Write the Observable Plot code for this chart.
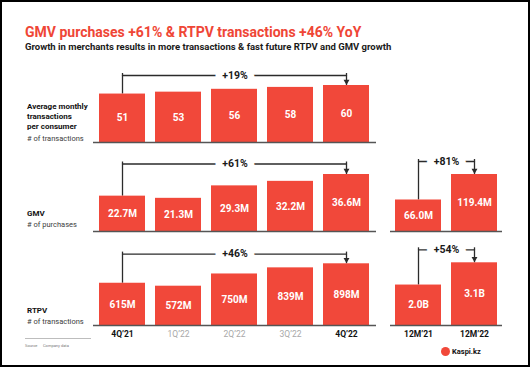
<!DOCTYPE html>
<html><head><meta charset="utf-8">
<script src="https://cdn.jsdelivr.net/npm/d3@7"></script>
<script src="https://cdn.jsdelivr.net/npm/@observablehq/plot@0.6"></script>
<style>
  html,body{margin:0;padding:0;background:#fff;}
  #frame{position:relative;width:530px;height:367px;box-sizing:border-box;border:2px solid #000;font-family:Roboto,"Noto Sans",sans-serif;overflow:hidden;}
  .abs{position:absolute;white-space:nowrap;}
  .title{left:23px;top:22px;font-size:14px;line-height:16px;font-weight:700;color:#ef4636;}
  .sub{left:23px;top:39px;font-size:9.5px;line-height:12px;font-weight:700;color:#1a1a1a;}
  .lab{font-size:8px;line-height:10px;font-weight:700;color:#111;left:25px;}
  .unit{font-size:7.5px;line-height:10px;color:#3c3c3c;left:25px;}
  .panel{position:absolute;}
  .panel svg{overflow:visible;}
</style>
</head><body>
<div id="frame"></div>
<script>
// ---- data ----
const quarters = ["4Q’21", "1Q’22", "2Q’22", "3Q’22", "4Q’22"];
const years = ["12M’21", "12M’22"];
const boldQuarters = ["4Q’21", "4Q’22"];
const avgTx = [51, 53, 56, 58, 60];
const gmvQ = [22.7, 21.3, 29.3, 32.2, 36.6];
const gmvY = [66.0, 119.4];
const rtpvQ = [615, 572, 750, 839, 898];
const rtpvY = [2.0, 3.1];
const growthAvg = "+19%";
const growthGmvQ = "+61%";
const growthGmvY = "+81%";
const growthRtpvQ = "+46%";
const growthRtpvY = "+54%";

const RED = "#f1483a";
const INK = "#2b2b2b";
const frame = document.getElementById("frame");

function addDiv(cls, text, style) {
  const d = document.createElement("div");
  d.className = "abs " + cls;
  d.textContent = text;
  Object.assign(d.style, style || {});
  frame.appendChild(d);
  return d;
}

addDiv("title", "GMV purchases +61% & RTPV transactions +46% YoY");
addDiv("sub", "Growth in merchants results in more transactions & fast future RTPV and GMV growth");

addDiv("lab", "Average monthly", {top: "100px"});
addDiv("lab", "transactions", {top: "110px"});
addDiv("lab", "per consumer", {top: "120px"});
addDiv("unit", "# of transactions", {top: "132px", color: "#3c3c3c"});
addDiv("lab", "GMV", {top: "207px"});
addDiv("unit", "# of purchases", {top: "218px", color: "#3c3c3c"});
addDiv("lab", "RTPV", {top: "304px"});
addDiv("unit", "# of transactions", {top: "315px", color: "#3c3c3c"});

// source line
const ln = document.createElement("div");
ln.className = "abs";
Object.assign(ln.style, {left: "23px", top: "336px", width: "66px", height: "1px", background: "#bdbdbd"});
frame.appendChild(ln);
addDiv("", "Source", {left: "23px", top: "341px", fontSize: "4px", lineHeight: "6px", color: "#777"});
addDiv("", "Company data", {left: "41px", top: "341px", fontSize: "4px", lineHeight: "6px", color: "#777"});

// logo
const logo = document.createElement("div");
logo.className = "abs";
Object.assign(logo.style, {left: "439px", top: "345px", width: "9px", height: "9px", borderRadius: "50%", background: RED});
frame.appendChild(logo);
addDiv("", "Kaspi.kz", {left: "450px", top: "345px", fontSize: "7.5px", lineHeight: "9px", fontWeight: "700", color: "#111"});

function panel({cats, values, fmt, growth, left, width, baseline, barPx, gapPx, axis}) {
  const n = cats.length;
  const max = d3.max(values);
  const base = 90;
  const mb = axis ? 22 : 2;
  const B = max + gapPx * max / barPx;
  const rows = cats.map((c, i) => ({c, v: values[i], label: fmt(values[i])}));
  const verts = [{c: cats[0], y1: values[0], y2: B}, {c: cats[n - 1], y1: values[n - 1], y2: B}];
  const horiz = [{c: cats[0], y: B}, {c: cats[n - 1], y: B}];
  const marks = [
    Plot.line(horiz, {x: "c", y: "y", stroke: INK, strokeWidth: 1.3}),
    Plot.ruleX(verts, {x: "c", y1: "y1", y2: "y2", stroke: INK, strokeWidth: 1.3, insetBottom: 2}),
    Plot.text([{y: B, t: growth}], {y: "y", text: "t", fontSize: 10.5, fontWeight: 700, fill: "#1a1a1a", stroke: "white", strokeWidth: 14}),
    Plot.barY(rows, {x: "c", y: "v", fill: RED}),
    Plot.ruleY([0], {stroke: "#555", strokeWidth: 1.4}),
    Plot.text(rows, {x: "c", y: d => d.v / 2, text: "label", fill: "white", fontSize: 10, fontWeight: 700}),
    Plot.dot([rows[n - 1]], {x: "c", y: "v", symbol: "triangle", rotate: 180, r: 2.2, fill: INK, dy: -4})
  ];
  if (axis === "q") {
    marks.push(Plot.axisX(cats.filter(c => boldQuarters.includes(c)), {tickSize: 0, tickPadding: 5, fontSize: 8.5, fontWeight: 700, fill: "#111", label: null}));
    marks.push(Plot.axisX(cats.filter(c => !boldQuarters.includes(c)), {tickSize: 0, tickPadding: 5, fontSize: 8.5, fill: "#a8a8a8", label: null}));
  } else if (axis === "y") {
    marks.push(Plot.axisX(cats, {tickSize: 0, tickPadding: 5, fontSize: 8.5, fontWeight: 700, fill: "#111", label: null}));
  }
  const svg = Plot.plot({
    width, height: base + mb,
    marginLeft: 0, marginRight: 0, marginTop: 0, marginBottom: mb,
    style: {fontFamily: "Roboto, sans-serif", background: "transparent", overflow: "visible"},
    x: {type: "band", domain: cats, range: [0, width], paddingInner: 0.17, paddingOuter: 0.085, axis: axis ? undefined : null},
    y: {domain: [0, max], range: [base, base - barPx], axis: null},
    marks
  });
  const wrap = document.createElement("div");
  wrap.className = "panel";
  wrap.style.left = (left - 2) + "px";
  wrap.style.top = (baseline - base - 2) + "px";
  wrap.appendChild(svg);
  frame.appendChild(wrap);
}

panel({cats: quarters, values: avgTx, fmt: d => String(d), growth: growthAvg, left: 93, width: 283, baseline: 142, barPx: 57, gapPx: 10});
panel({cats: quarters, values: gmvQ, fmt: d => d.toFixed(1) + "M", growth: growthGmvQ, left: 93, width: 283, baseline: 231, barPx: 57, gapPx: 10.5});
panel({cats: years, values: gmvY, fmt: d => d.toFixed(1) + "M", growth: growthGmvY, left: 390, width: 112, baseline: 231, barPx: 57, gapPx: 13});
panel({cats: quarters, values: rtpvQ, fmt: d => d + "M", growth: growthRtpvQ, left: 93, width: 283, baseline: 324.7, barPx: 61.7, gapPx: 9.7, axis: "q"});
panel({cats: years, values: rtpvY, fmt: d => d.toFixed(1) + "B", growth: growthRtpvY, left: 390, width: 112, baseline: 324.7, barPx: 62.7, gapPx: 13, axis: "y"});
</script>
</body></html>
